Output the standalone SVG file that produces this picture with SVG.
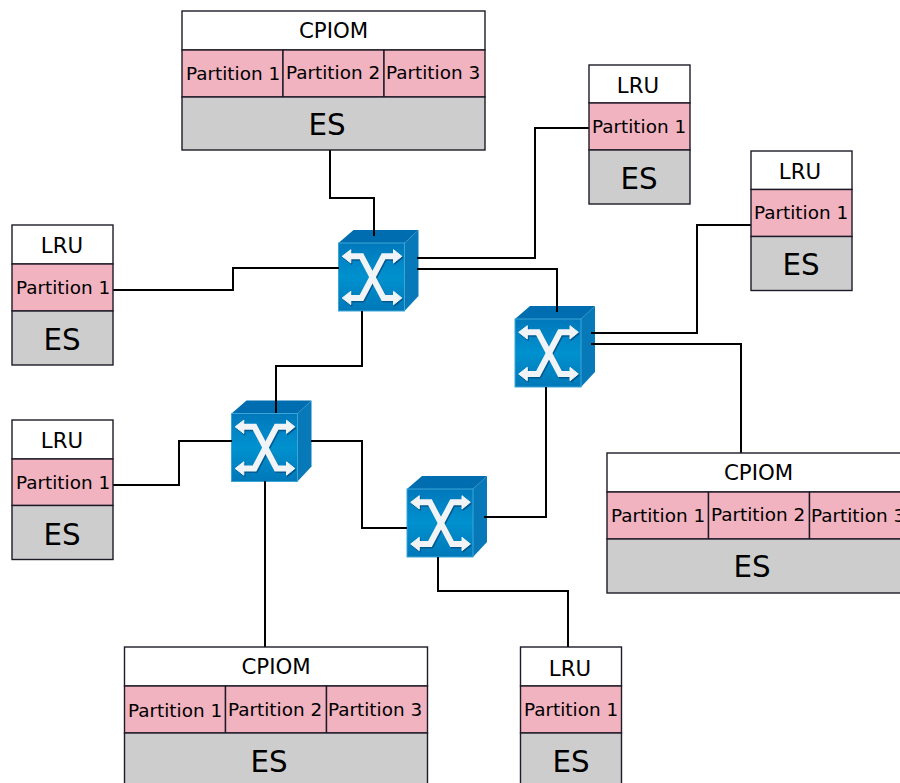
<svg xmlns="http://www.w3.org/2000/svg" width="900" height="783" viewBox="0 0 900 783">
<style>
text{font-family:"DejaVu Sans",Verdana,sans-serif;fill:#000;text-anchor:middle}
.h{font-size:21.33px}.p{font-size:18.4px}.e{font-size:29.33px}
.w{fill:#fff;stroke:#1e1a28;stroke-width:1.4}.k{fill:#f1b3bf;stroke:#1e1a28;stroke-width:1.4}.g{fill:#cdcdcd;stroke:#1e1a28;stroke-width:1.4}
.c{fill:none;stroke:#000;stroke-width:2}
.x{fill:none;stroke-width:6}
</style>
<defs>
<linearGradient id="f" x1="0" y1="0" x2="0" y2="1"><stop offset="0" stop-color="#0078bb"/><stop offset=".5" stop-color="#0091cf"/><stop offset="1" stop-color="#0078b8"/></linearGradient>
<g id="xs">
<path class="x" d="M10 13.300H23L45 55H55"/>
<path class="x" d="M55 13.300H45L23 55H10"/>
<path d="M3.700 13.300L12.300 6.700V20ZM63.300 13.300L55 6.700V20ZM3.700 55L12.300 48.300V61.700ZM63.300 55L55 48.300V61.700Z"/>
</g>
<g id="sw">
<path d="M15 -13H80L66 0H0Z" fill="#006db0"/>
<path d="M66 0L80 -13V53L66 68Z" fill="#0879b8"/>
<rect x="0" y="0" width="66" height="68" fill="url(#f)" stroke="#3aa6d8" stroke-width="1"/>
<use href="#xs" x="1" y="1.500" stroke="#00588f" fill="#00588f"/>
<use href="#xs" stroke="#f1f4f6" fill="#f1f4f6"/>
</g>
</defs>
<g id="switch-1"><use href="#sw" x="338.500" y="243"/></g>
<g id="switch-2"><use href="#sw" x="515" y="319"/></g>
<g id="switch-3"><use href="#sw" x="231.500" y="413.500"/></g>
<g id="switch-4"><use href="#sw" x="407" y="489"/></g>
<g id="connectors">
<path class="c" d="M330 150V198H374V236"/>
<path class="c" d="M113 290H233V268H339"/>
<path class="c" d="M417 258H535V128H589"/>
<path class="c" d="M417 269H557V312"/>
<path class="c" d="M362 311V366H276V413"/>
<path class="c" d="M113 485H179V441H232"/>
<path class="c" d="M311 441H362V528H407"/>
<path class="c" d="M265 481V647"/>
<path class="c" d="M591 333H697V225H751"/>
<path class="c" d="M591 344H741V453"/>
<path class="c" d="M546 387V517H484"/>
<path class="c" d="M438 557V591H568V647"/>
</g>
<g id="cpiom-top">
<rect class="w" x="182" y="11" width="303" height="39"/><rect class="k" x="182" y="50" width="101" height="47"/><rect class="k" x="283" y="50" width="101" height="47"/><rect class="k" x="384" y="50" width="101" height="47"/><rect class="g" x="182" y="97" width="303" height="53"/>
<text class="h" x="333.500" y="38">CPIOM</text><text class="p" x="233" y="80">Partition 1</text><text class="p" x="333" y="79">Partition 2</text><text class="p" x="433" y="79">Partition 3</text><text class="e" x="327" y="135">ES</text>
</g>
<g id="lru-top">
<rect class="w" x="589" y="65" width="101" height="38"/><rect class="k" x="589" y="103" width="101" height="47"/><rect class="g" x="589" y="150" width="101" height="54"/>
<text class="h" x="638" y="93">LRU</text><text class="p" x="639" y="133">Partition 1</text><text class="e" x="639" y="189">ES</text>
</g>
<g id="lru-right">
<rect class="w" x="751" y="151" width="101" height="38.500"/><rect class="k" x="751" y="189.500" width="101" height="47"/><rect class="g" x="751" y="236.500" width="101" height="54"/>
<text class="h" x="800" y="179">LRU</text><text class="p" x="801" y="219">Partition 1</text><text class="e" x="801" y="275">ES</text>
</g>
<g id="lru-left-1">
<rect class="w" x="12" y="225" width="101" height="39"/><rect class="k" x="12" y="264" width="101" height="47"/><rect class="g" x="12" y="311" width="101" height="54"/>
<text class="h" x="62" y="253">LRU</text><text class="p" x="63" y="294">Partition 1</text><text class="e" x="62" y="350">ES</text>
</g>
<g id="lru-left-2">
<rect class="w" x="12" y="420" width="101" height="39"/><rect class="k" x="12" y="459" width="101" height="46.500"/><rect class="g" x="12" y="505.500" width="101" height="54"/>
<text class="h" x="62" y="448">LRU</text><text class="p" x="63" y="489">Partition 1</text><text class="e" x="62" y="545">ES</text>
</g>
<g id="cpiom-right">
<rect class="w" x="607" y="453" width="303" height="39"/><rect class="k" x="607" y="492" width="101.500" height="47"/><rect class="k" x="708.500" y="492" width="101" height="47"/><rect class="k" x="809.500" y="492" width="101" height="47"/><rect class="g" x="607" y="539" width="303" height="54"/>
<text class="h" x="758.500" y="480">CPIOM</text><text class="p" x="658" y="522">Partition 1</text><text class="p" x="758" y="521">Partition 2</text><text class="p" x="858" y="522">Partition 3</text><text class="e" x="752" y="577">ES</text>
</g>
<g id="cpiom-bottom">
<rect class="w" x="124.500" y="647" width="303" height="39"/><rect class="k" x="124.500" y="686" width="101" height="47"/><rect class="k" x="225.500" y="686" width="101" height="47"/><rect class="k" x="326.500" y="686" width="101" height="47"/><rect class="g" x="124.500" y="733" width="303" height="54"/>
<text class="h" x="276" y="674">CPIOM</text><text class="p" x="175" y="717">Partition 1</text><text class="p" x="275" y="716">Partition 2</text><text class="p" x="375" y="716">Partition 3</text><text class="e" x="269" y="772">ES</text>
</g>
<g id="lru-bottom">
<rect class="w" x="520.500" y="647" width="101" height="39"/><rect class="k" x="520.500" y="686" width="101" height="47"/><rect class="g" x="520.500" y="733" width="101" height="54"/>
<text class="h" x="570" y="676">LRU</text><text class="p" x="571" y="716">Partition 1</text><text class="e" x="571" y="772">ES</text>
</g>
</svg>
